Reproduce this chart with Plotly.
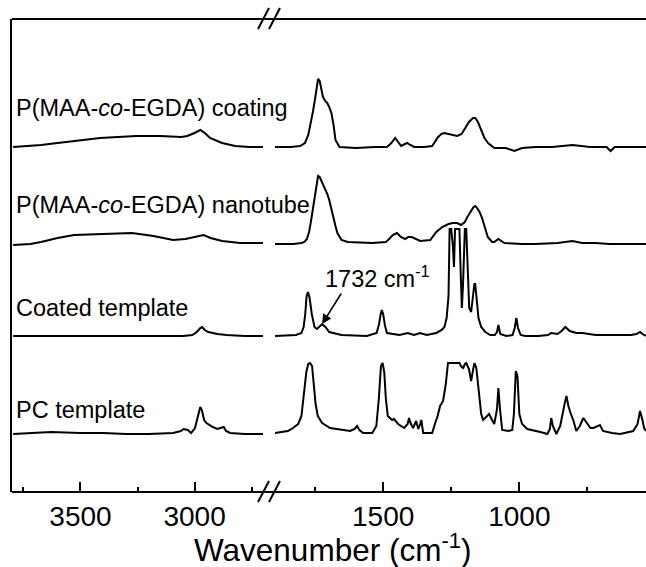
import plotly.graph_objects as go

# ---------------- data ----------------
labels = ["PC template", "Coated template",
          "P(MAA-<i>co</i>-EGDA) nanotube", "P(MAA-<i>co</i>-EGDA) coating"]
offsets = [58, 156, 248, 345]

# high-wavenumber segment (3800-2700 cm-1)
pc_hi_wn = [3795, 3700, 3629, 3500, 3400, 3300, 3200, 3094, 3060, 3048, 3030, 3015, 2998, 2985,
            2975, 2968, 2958, 2948, 2935, 2920, 2900, 2880, 2872, 2862, 2844, 2780, 2700]
pc_hi_int = [0, 1, 2, 1, 1, 0, 0, 1, 3, 5, 4, 1, 6, 18, 27, 24, 14, 11, 9, 7, 5, 6, 7, 3, 1, 0, 0]

ct_hi_wn = [3795, 3600, 3400, 3200, 3050, 3010, 2990, 2975, 2967, 2955, 2940, 2920, 2900, 2860, 2780, 2700]
ct_hi_int = [0, 0, 0, 0, 0, 1, 4, 8, 9, 6, 4, 3, 2, 1, 0, 0]

nt_hi_wn = [3795, 3720, 3673, 3600, 3528, 3414, 3274, 3180, 3094, 3040, 3000, 2975, 2960, 2930,
            2900, 2879, 2800, 2700]
nt_hi_int = [-1, 0, 2, 6, 9, 10, 11, 8, 4, 5, 7, 9, 9, 6, 4, 3, 1, 1]

co_hi_wn = [3795, 3720, 3673, 3600, 3528, 3414, 3256, 3150, 3058, 3032, 3000, 2975, 2955, 2932,
            2900, 2879, 2822, 2760, 2700]
co_hi_int = [0, 1, 2, 4, 6, 9, 11, 11, 10, 11, 14, 17, 14, 9, 6, 4, 1, 0, 0]

# low-wavenumber segment (1900-535 cm-1)
pc_lo_wn = [1897, 1850, 1831, 1812, 1800, 1790, 1782, 1775, 1768, 1761, 1755, 1748, 1740, 1724,
            1695, 1650, 1621, 1605, 1596, 1587, 1574, 1540, 1525, 1516, 1508, 1502, 1496, 1490,
            1483, 1467, 1460, 1445, 1423, 1410, 1405, 1398, 1390, 1379, 1371, 1364, 1360, 1353,
            1320, 1309, 1300, 1291, 1280, 1270, 1262, 1240, 1220, 1212, 1206, 1200, 1195, 1185,
            1177, 1170, 1165, 1158, 1151, 1140, 1133, 1120, 1111, 1100, 1092, 1082, 1077, 1071,
            1063, 1040, 1026, 1020, 1013, 1007, 1000, 990, 971, 923, 897, 888, 883, 877, 864,
            850, 842, 834, 827, 820, 812, 801, 791, 778, 765, 750, 739, 728, 715, 704, 693, 660,
            630, 582, 566, 557, 548, 542, 535]
pc_lo_int = [1, 3, 6, 10, 18, 40, 62, 70, 71, 68, 52, 30, 18, 11,
             6, 4, 3, 5, 8, 4, 1, 1, 8, 35, 68, 71, 62, 35,
             18, 14, 15, 10, 6, 10, 16, 10, 6, 13, 5, 10, 14, 1,
             1, 11, 18, 28, 33, 50, 71, 71, 71, 67, 66, 70, 71, 65,
             53, 64, 71, 66, 45, 20, 14, 17, 20, 14, 10, 25, 46, 25,
             4, 3, 4, 20, 63, 58, 20, 10, 5, 2, 0, 5, 16, 8, 0,
             8, 21, 30, 38, 28, 21, 13, 3, 8, 16, 10, 6, 6, 8, 9, 3, 1,
             0, 3, 10, 23, 14, 6, 3]

ct_lo_wn = [1897, 1820, 1800, 1792, 1786, 1781, 1776, 1770, 1762, 1752, 1743, 1735, 1724, 1712,
            1698, 1653, 1560, 1524, 1515, 1509, 1505, 1500, 1493, 1486, 1440, 1410, 1398, 1387,
            1375, 1365, 1340, 1305, 1285, 1275, 1267, 1260, 1256, 1250, 1244, 1240, 1236, 1228,
            1220, 1215, 1211, 1207, 1200, 1195, 1190, 1184, 1177, 1170, 1165, 1162, 1157, 1150,
            1140, 1125, 1107, 1090, 1082, 1077, 1070, 1048, 1025, 1017, 1011, 1005, 995, 978,
            930, 895, 883, 860, 845, 831, 815, 790, 769, 720, 650, 590, 570, 557, 548, 535]
ct_lo_int = [0, 1, 3, 9, 22, 40, 44, 38, 22, 9, 7, 9, 12, 9,
             4, 1, 0, 3, 12, 22, 26, 22, 10, 3, 1, 3, 2, 1,
             2, 3, 1, 3, 6, 9, 18, 40, 107, 107, 90, 69, 107, 107,
             107, 60, 28, 50, 107, 107, 60, 28, 24, 40, 52, 52, 40, 18,
             9, 4, 1, 1, 4, 11, 2, 0, 1, 8, 18, 8, 1, 0,
             0, 1, 3, 2, 5, 9, 5, 3, 3, 1, 1, 1, 2, 4, 2, 0]

nt_lo_wn = [1897, 1830, 1800, 1789, 1780, 1772, 1766, 1758, 1751, 1745, 1739, 1733, 1728, 1720,
            1713, 1705, 1698, 1690, 1683, 1675, 1668, 1653, 1630, 1540, 1490, 1478, 1465, 1449,
            1435, 1419, 1408, 1395, 1380, 1364, 1327, 1315, 1305, 1283, 1260, 1244, 1228, 1214,
            1200, 1191, 1178, 1168, 1162, 1155, 1146, 1138, 1127, 1116, 1100, 1092, 1077, 1055,
            990, 941, 860, 805, 770, 720, 669, 620, 535]
nt_lo_int = [0, 0, 1, 2, 5, 12, 21, 35, 51, 62, 68, 67, 64, 60,
             56, 50, 44, 36, 27, 18, 11, 4, 2, 1, 2, 5, 9, 11,
             7, 5, 7, 7, 5, 3, 4, 8, 12, 17, 20, 21, 21, 19,
             22, 27, 33, 37, 38, 36, 32, 27, 17, 7, 2, 2, 5, 1,
             0, 0, 1, 3, 1, 1, 0, 0, 0]

co_lo_wn = [1897, 1840, 1805, 1787, 1775, 1765, 1758, 1750, 1745, 1739, 1733, 1727, 1721, 1713,
            1705, 1698, 1690, 1682, 1675, 1660, 1600, 1530, 1486, 1470, 1456, 1445, 1434, 1420,
            1412, 1400, 1386, 1350, 1320, 1298, 1287, 1276, 1260, 1245, 1228, 1212, 1199, 1185,
            1170, 1162, 1152, 1140, 1128, 1115, 1092, 1050, 1018, 990, 941, 880, 805, 740, 680,
            665, 650, 620, 535]
co_lo_int = [0, 0, 1, 4, 12, 24, 35, 48, 60, 68, 66, 57, 50, 46,
             44, 40, 34, 22, 7, 0, -1, 0, 0, 4, 9, 5, 1, 3,
             4, 2, 0, 0, 1, 10, 13, 14, 13, 12, 11, 13, 19, 25,
             29, 29, 25, 17, 9, 4, -1, -1, -4, -1, 0, 0, 2, 0, 0,
             -4, 0, 0, 0]

hi_wn = [pc_hi_wn, ct_hi_wn, nt_hi_wn, co_hi_wn]
hi_int = [pc_hi_int, ct_hi_int, nt_hi_int, co_hi_int]
lo_wn = [pc_lo_wn, ct_lo_wn, nt_lo_wn, co_lo_wn]
lo_int = [pc_lo_int, ct_lo_int, nt_lo_int, co_lo_int]

hi_range = [3800, 2700]
lo_range = [1900, 535]
peak_note = "1732 cm<sup>-1</sup>"
peak_wn = 1724

# ---------------- figure ----------------
W, H = 646, 567
L, R, T, B = 12, 0, 19, 75
pw, ph = W - L - R, H - T - B


def px2paper_x(px):
    return (px - L) / pw


def px2paper_y(py):
    return (H - B - py) / ph


FONT = "Liberation Sans, Arial, sans-serif"
fig = go.Figure()
line_style = dict(color="black", width=2)

for i in range(4):
    fig.add_trace(go.Scatter(x=hi_wn[i], y=[v + offsets[i] for v in hi_int[i]],
                             mode="lines", line=line_style, xaxis="x", yaxis="y",
                             showlegend=False, hoverinfo="skip"))
    fig.add_trace(go.Scatter(x=lo_wn[i], y=[v + offsets[i] for v in lo_int[i]],
                             mode="lines", line=line_style, xaxis="x2", yaxis="y",
                             showlegend=False, hoverinfo="skip"))

axis_common = dict(showgrid=False, zeroline=False, showline=False,
                   ticks="inside", ticklen=10, tickwidth=2, tickcolor="black",
                   dtick=500, tick0=0, ticklabelstandoff=5,
                   minor=dict(ticks="inside", ticklen=5, tickwidth=2, tickcolor="black",
                              dtick=250, tick0=0, showgrid=False),
                   tickfont=dict(family=FONT, size=28, color="black"))

d1_end = px2paper_x(263)
d2_start = px2paper_x(274.2)

fig.update_layout(
    width=W, height=H,
    margin=dict(l=L, r=R, t=T, b=B, pad=0),
    paper_bgcolor="white", plot_bgcolor="white",
    xaxis=dict(domain=[0, d1_end], range=hi_range, anchor="y", **axis_common),
    xaxis2=dict(domain=[d2_start, 1], range=lo_range, anchor="y", **axis_common),
    yaxis=dict(range=[0, ph], showgrid=False, zeroline=False, showticklabels=False,
               ticks="", showline=True, linecolor="black", linewidth=2, mirror=False),
)

# frame lines (top & bottom) and break marks
shapes = []
for yy in (0, 1):
    shapes.append(dict(type="line", xref="paper", yref="paper", x0=0, x1=1.01, y0=yy, y1=yy,
                       line=dict(color="black", width=2)))
for (ybase) in (19, 492):
    for dx in (0, 11):
        shapes.append(dict(type="line", xref="paper", yref="paper",
                           x0=px2paper_x(258 + dx), y0=px2paper_y(ybase + 10),
                           x1=px2paper_x(269 + dx), y1=px2paper_y(ybase - 11),
                           line=dict(color="black", width=2)))
fig.update_layout(shapes=shapes)

ann = []
label_py = [410, 308, 205, 108]
for i in range(4):
    ann.append(dict(x=px2paper_x(14), y=px2paper_y(label_py[i]), xref="paper", yref="paper",
                    text=labels[i], showarrow=False, xanchor="left", yanchor="middle",
                    font=dict(family=FONT, size=23.5, color="black")))
ann.append(dict(x=px2paper_x(377), y=px2paper_y(277), xref="paper", yref="paper",
                text=peak_note, showarrow=False, xanchor="center", yanchor="middle",
                font=dict(family=FONT, size=23.5, color="black")))
ann.append(dict(x=peak_wn, y=offsets[1] + 12, xref="x2", yref="y", text="",
                showarrow=True, arrowhead=2, arrowsize=1.2, arrowwidth=1.6, arrowcolor="black",
                ax=20, ay=-32, standoff=0))
ann.append(dict(x=px2paper_x(333), y=px2paper_y(548), xref="paper", yref="paper",
                text="Wavenumber (cm<sup>-1</sup>)", showarrow=False,
                xanchor="center", yanchor="middle",
                font=dict(family=FONT, size=31.5, color="black")))
fig.update_layout(annotations=ann)

fig.write_html("out.html")
